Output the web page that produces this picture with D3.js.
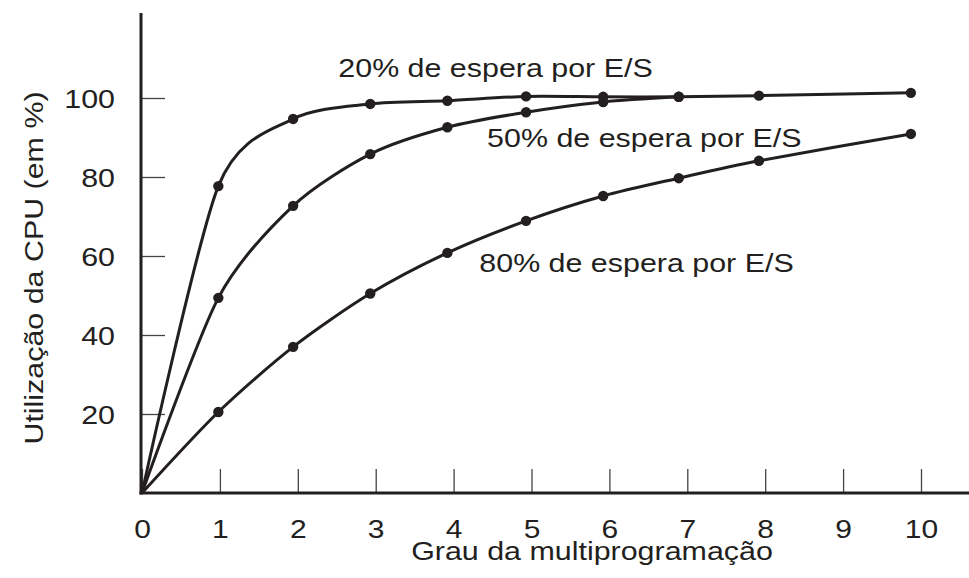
<!DOCTYPE html>
<html>
<head>
<meta charset="utf-8">
<script src="https://cdn.jsdelivr.net/npm/d3@7"></script>
<style>
  body { margin: 0; background: #fff; }
  svg text { font-family: "Liberation Sans", Arial, sans-serif; fill: #231f20; }
</style>
</head>
<body>
<svg id="chart" width="969" height="578"></svg>
<script>
// values (x = grau da multiprogramação, y = % CPU)
const xTicks = [0, 1, 2, 3, 4, 5, 6, 7, 8, 9, 10];
const yTicks = [20, 40, 60, 80, 100];

const seriesNames = ["20% de espera por E/S", "50% de espera por E/S", "80% de espera por E/S"];

const x20 = [0, 0.98, 1.94, 2.93, 3.92, 4.93, 5.92, 6.89, 7.92, 9.87];
const y20 = [0, 77.7, 94.7, 98.5, 99.3, 100.4, 100.3, 100.3, 100.6, 101.3];

const x50 = [0, 0.98, 1.94, 2.93, 3.92, 4.93, 5.92, 6.89];
const y50 = [0, 49.4, 72.7, 85.8, 92.6, 96.4, 99, 100.3];

const x80 = [0, 0.98, 1.94, 2.93, 3.92, 4.93, 5.92, 6.89, 7.92, 9.87];
const y80 = [0, 20.5, 37, 50.5, 60.8, 68.9, 75.2, 79.7, 84.1, 90.9];

// where each curve's label sits, in data units (left end, baseline)
const labelX = [2.52, 4.43, 4.33];
const labelY = [105.3, 87.6, 56];

const xLabel = "Grau da multiprogramação";
const yLabel = "Utilização da CPU (em %)";

const ink = "#231f20";
const FONT = 26, STRETCH = 1.17; // reference type is a wide Helvetica

const svg = d3.select("#chart");
const W = +svg.attr("width");

const x = d3.scaleLinear().domain([0, 10]).range([142, 921]);
const y = d3.scaleLinear().domain([0, 100]).range([493, 98]);

// axes
const xAxis = svg.append("g")
    .attr("transform", `translate(0,${y(0)})`)
    .call(d3.axisBottom(x).tickValues(xTicks).tickFormat(d3.format("d"))
        .tickSizeInner(-24).tickSizeOuter(0));
xAxis.select(".domain").remove();
xAxis.selectAll(".tick line").attr("stroke", "#444").attr("stroke-width", 1.3);
xAxis.selectAll(".tick text")
    .attr("font-size", 25)
    .attr("y", 27)
    .attr("transform", `scale(1.2,1)`);

const yAxis = svg.append("g")
    .attr("transform", `translate(${x(0) - 1},0)`)
    .call(d3.axisLeft(y).tickValues(yTicks)
        .tickSizeInner(-24).tickSizeOuter(0));
yAxis.select(".domain").remove();
yAxis.selectAll(".tick line").attr("stroke", "#444").attr("stroke-width", 1.3);
yAxis.selectAll(".tick text")
    .attr("font-size", FONT)
    .attr("x", 0)
    .attr("dy", "0.36em")
    .attr("transform", `translate(-26,0) scale(${STRETCH},1)`);

// axis lines
svg.append("line")
    .attr("x1", x(0) - 1).attr("x2", x(0) - 1)
    .attr("y1", 13).attr("y2", y(0) + 1.5)
    .attr("stroke", ink).attr("stroke-width", 3);
svg.append("line")
    .attr("x1", x(0) - 2.5).attr("x2", W)
    .attr("y1", y(0)).attr("y2", y(0))
    .attr("stroke", ink).attr("stroke-width", 3);

// curves
const series = [
    { name: seriesNames[0], pts: x20.map((v, i) => [v, y20[i]]) },
    { name: seriesNames[1], pts: x50.map((v, i) => [v, y50[i]]) },
    { name: seriesNames[2], pts: x80.map((v, i) => [v, y80[i]]) }
];

// slightly tight cardinal: first leg stays near straight, bend past the first dot
const line = d3.line()
    .x(d => x(d[0]))
    .y(d => y(d[1]))
    .curve(d3.curveCardinal.tension(0.2));

const g = svg.append("g");
g.selectAll("path.curve")
    .data(series)
    .join("path")
    .attr("class", "curve")
    .attr("fill", "none")
    .attr("stroke", ink)
    .attr("stroke-width", 3)
    .attr("d", d => line(d.pts));

// dots (none at the origin)
series.forEach(s => {
    g.selectAll(null)
        .data(s.pts.filter(p => p[0] > 0))
        .join("circle")
        .attr("cx", d => x(d[0]))
        .attr("cy", d => y(d[1]))
        .attr("r", 5.2)
        .attr("fill", ink);
});

// curve labels
svg.selectAll("text.series-label")
    .data(series)
    .join("text")
    .attr("class", "series-label")
    .attr("font-size", FONT)
    .attr("transform", (d, i) => `translate(${x(labelX[i])},${y(labelY[i])}) scale(${STRETCH},1)`)
    .text(d => d.name);

// axis titles
svg.append("text")
    .attr("font-size", FONT)
    .attr("text-anchor", "middle")
    .attr("transform", `translate(592,560) scale(${STRETCH},1)`)
    .text(xLabel);

svg.append("text")
    .attr("font-size", FONT)
    .attr("text-anchor", "middle")
    .attr("transform", `translate(43,268) rotate(-90) scale(${STRETCH},1)`)
    .text(yLabel);
</script>
</body>
</html>
